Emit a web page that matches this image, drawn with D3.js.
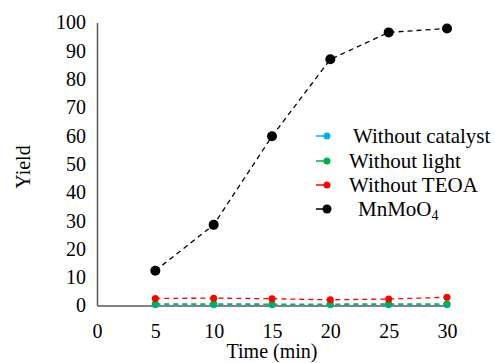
<!DOCTYPE html>
<html>
<head>
<meta charset="utf-8">
<script src="https://cdn.jsdelivr.net/npm/d3@7"></script>
<style>
  body { margin: 0; background: #fff; }
  svg text { font-family: "Liberation Serif", "Times New Roman", serif; font-size: 20px; fill: #000; }
</style>
</head>
<body>
<div id="chart"></div>
<script>
// data
const times = [5, 10, 15, 20, 25, 30];
const xTicks = [0, 5, 10, 15, 20, 25, 30];
const yTicks = [0, 10, 20, 30, 40, 50, 60, 70, 80, 90, 100];
const withoutCatalyst = [0.3, 0.3, 0.3, 0.3, 0.3, 0.3];
const withoutLight = [0.6, 0.6, 0.5, 0.5, 0.6, 0.6];
const withoutTEOA = [2.5, 2.6, 2.4, 2.0, 2.3, 2.9];
const mnmoo4 = [12.3, 28.5, 59.8, 87.0, 96.5, 97.9];

const series = [
    { name: "Without catalyst", values: withoutCatalyst, color: "#00b0f0", r: 3.5 },
    { name: "Without light", values: withoutLight, color: "#00b050", r: 3.5 },
    { name: "Without TEOA", values: withoutTEOA, color: "#ff0000", r: 3.5 },
    { name: "MnMoO", sub: "4", values: mnmoo4, color: "#000000", r: 5 }
];

const serif = "'Liberation Serif', 'Times New Roman', serif";
const width = 495, height = 363;
const svg = d3.select("#chart").append("svg")
    .attr("width", width)
    .attr("height", height);

const x = d3.scaleLinear().domain([0, 30]).range([97, 447]);
const y = d3.scaleLinear().domain([0, 100]).range([305.5, 22.5]);

// axes
const xAxis = svg.append("g")
    .attr("transform", `translate(0, ${y(0)})`)
    .call(d3.axisBottom(x).tickValues(xTicks).tickSize(0).tickPadding(16));
const yAxis = svg.append("g")
    .attr("transform", `translate(${x(0)}, 0)`)
    .call(d3.axisLeft(y).tickValues(yTicks).tickSize(0).tickPadding(11));

[xAxis, yAxis].forEach(g => {
    g.attr("font-family", serif).attr("font-size", 20);
    g.select(".domain").attr("stroke", "#595959").attr("stroke-width", 1.5);
    g.selectAll(".tick text")
        .attr("font-family", serif)
        .style("font-family", serif);
});
xAxis.selectAll("text").attr("dy", "0.71em").attr("y", 18);

svg.append("text")
    .attr("x", 272).attr("y", 358)
    .attr("text-anchor", "middle")
    .text("Time (min)");

svg.append("text")
    .attr("transform", "translate(30, 167) rotate(-90)")
    .attr("text-anchor", "middle")
    .text("Yield");

// series
const line = d3.line()
    .x((d, i) => x(times[i]))
    .y(d => y(d));

series.forEach(s => {
    svg.append("path")
        .datum(s.values)
        .attr("d", line)
        .attr("fill", "none")
        .attr("stroke", s.color)
        .attr("stroke-width", 1.3)
        .attr("stroke-dasharray", "5,4");
    svg.append("g").selectAll("circle")
        .data(s.values)
        .join("circle")
        .attr("cx", (d, i) => x(times[i]))
        .attr("cy", d => y(d))
        .attr("r", s.r)
        .attr("fill", s.color);
});

// legend
const legendRows = [136, 161, 185, 209];
const legendTextX = [353, 349, 349, 358];
series.forEach((s, i) => {
    const g = svg.append("g").attr("transform", `translate(0, ${legendRows[i]})`);
    g.append("line")
        .attr("x1", 316).attr("x2", 326)
        .attr("stroke", s.color).attr("stroke-width", 1.5);
    g.append("circle")
        .attr("cx", 327).attr("cy", 0)
        .attr("r", s.r === 5 ? 4.5 : 3.5)
        .attr("fill", s.color);
    const t = g.append("text")
        .attr("x", legendTextX[i]).attr("y", 7)
        .style("font-size", "21px")
        .text(s.name);
    if (s.sub) {
        t.append("tspan")
            .attr("dy", 4)
            .style("font-size", "14px")
            .text(s.sub);
    }
});
</script>
</body>
</html>
